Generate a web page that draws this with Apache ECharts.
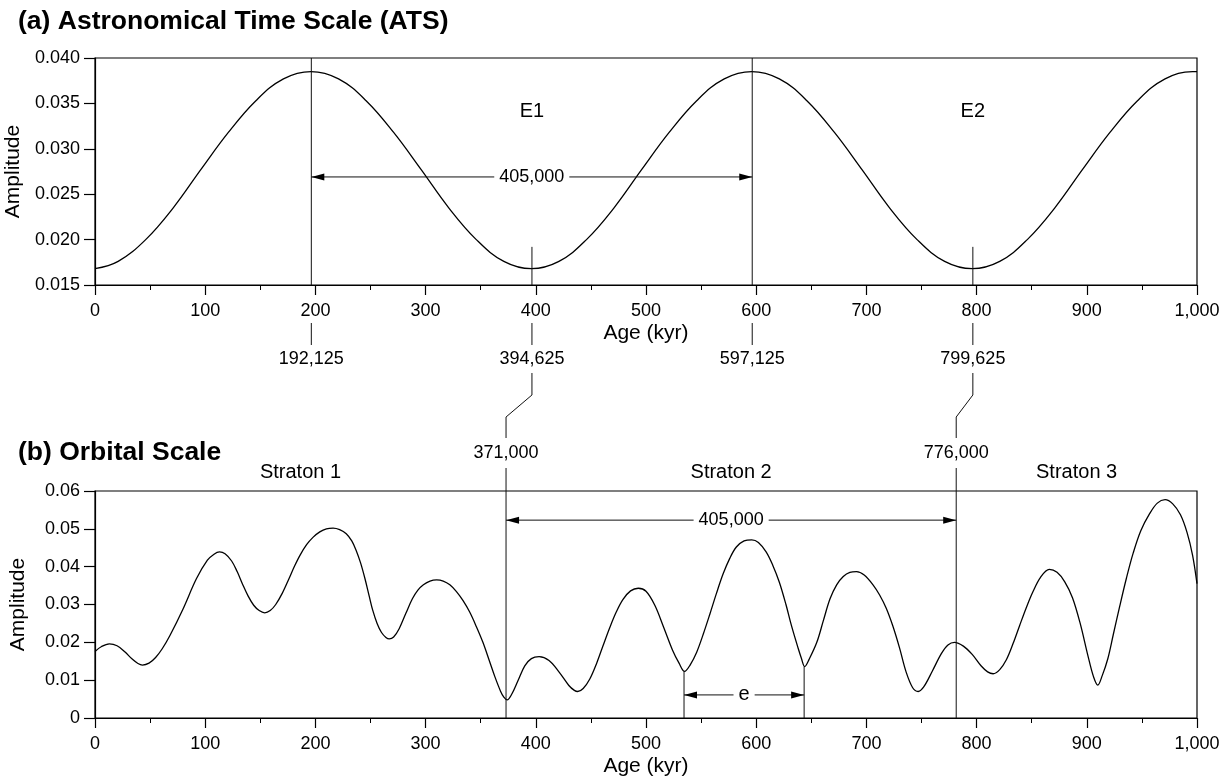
<!DOCTYPE html>
<html>
<head>
<meta charset="utf-8">
<title>ATS / Orbital Scale</title>
<script src="https://cdn.jsdelivr.net/npm/echarts@6/dist/echarts.min.js"></script>
<style>
html, body { margin: 0; padding: 0; background: #fff; }
#main { width: 1231px; height: 780px; }
</style>
</head>
<body>
<div id="main"></div>
<script>
// (a) ATS curve, read every 25 kyr from the peak at 196
var atsAge = [0, 21, 46, 71, 96, 121, 146, 171, 196, 221, 246, 271, 296, 321, 346, 371, 396,
  421, 446, 471, 496, 521, 546, 571, 596, 621, 646, 671, 696, 721, 746, 771, 796,
  821, 846, 871, 896, 921, 946, 971, 996, 1000];
var atsAmp = [0.0168, 0.0176, 0.0200, 0.0235, 0.0277, 0.0318, 0.0353, 0.0377, 0.0385, 0.0377, 0.0353, 0.0318, 0.0277, 0.0235, 0.0200, 0.0176, 0.0168,
  0.0176, 0.0200, 0.0235, 0.0277, 0.0318, 0.0353, 0.0377, 0.0385, 0.0377, 0.0353, 0.0318, 0.0277, 0.0235, 0.0200, 0.0176, 0.0168,
  0.0176, 0.0200, 0.0235, 0.0277, 0.0318, 0.0353, 0.0377, 0.0385, 0.0385];

// (b) orbital curve
var orbAge = [0, 6, 13, 20, 27, 34, 39, 43, 49, 55, 61, 68, 80, 92, 102, 108, 113, 118, 124, 129,
  134, 139, 144, 149, 154, 159, 164, 170, 176, 181, 186, 192, 198, 204, 210, 216, 222, 228, 233, 237,
  241, 245, 249, 252, 256, 260, 264, 267, 271, 276, 282, 288, 293, 298, 304, 310, 316, 322, 328, 334,
  340, 346, 352, 358, 363, 368, 371, 374, 378, 384, 390, 396, 403, 412, 421, 430, 435, 438, 443, 449,
  455, 461, 467, 473, 479, 486, 493, 500, 508, 516, 524, 530, 535, 540, 546, 552, 558, 564, 570, 576,
  582, 589, 596, 602, 609, 615, 621, 627, 632, 638, 641, 644, 648, 655, 661, 667, 673, 679, 685, 691,
  698, 706, 712, 718, 724, 730, 736, 742, 747, 752, 760, 768, 774, 780, 788, 796, 804, 810, 815, 821,
  827, 833, 839, 845, 851, 858, 866, 873, 880, 887, 894, 901, 906, 910, 914, 919, 924, 930, 936, 942,
  949, 957, 964, 971, 978, 985, 991, 996, 1000];
var orbAmp = [0.0176, 0.0189, 0.0196, 0.0191, 0.0175, 0.0155, 0.0144, 0.0140, 0.0145, 0.0160, 0.0183, 0.0218, 0.0289, 0.0368, 0.0417, 0.0433, 0.0439, 0.0434, 0.0415, 0.0387,
  0.0353, 0.0322, 0.0298, 0.0284, 0.0278, 0.0284, 0.0300, 0.0330, 0.0368, 0.0401, 0.0430, 0.0458, 0.0478, 0.0492, 0.0500, 0.0502, 0.0498, 0.0487, 0.0468, 0.0443,
  0.0410, 0.0368, 0.0320, 0.0285, 0.0250, 0.0226, 0.0213, 0.0209, 0.0214, 0.0236, 0.0276, 0.0315, 0.0338, 0.0352, 0.0362, 0.0365, 0.0362, 0.0352, 0.0334, 0.0310,
  0.0280, 0.0242, 0.0200, 0.0150, 0.0108, 0.0071, 0.0055, 0.0048, 0.0062, 0.0100, 0.0138, 0.0157, 0.0162, 0.0152, 0.0122, 0.0086, 0.0073, 0.0070, 0.0078, 0.0103,
  0.0143, 0.0191, 0.0238, 0.0280, 0.0313, 0.0336, 0.0343, 0.0335, 0.0298, 0.0240, 0.0180, 0.0145, 0.0123, 0.0140, 0.0174, 0.0222, 0.0275, 0.0330, 0.0381, 0.0422,
  0.0452, 0.0468, 0.0471, 0.0464, 0.0439, 0.0404, 0.0359, 0.0300, 0.0244, 0.0185, 0.0158, 0.0136, 0.0155, 0.0200, 0.0258, 0.0315, 0.0352, 0.0374, 0.0385, 0.0387,
  0.0378, 0.0352, 0.0325, 0.0290, 0.0243, 0.0186, 0.0122, 0.0080, 0.0070, 0.0082, 0.0125, 0.0170, 0.0193, 0.0200, 0.0190, 0.0168, 0.0138, 0.0122, 0.0117, 0.0128,
  0.0154, 0.0196, 0.0244, 0.0291, 0.0333, 0.0372, 0.0393, 0.0385, 0.0360, 0.0318, 0.0250, 0.0165, 0.0110, 0.0087, 0.0112, 0.0156, 0.0220, 0.0297, 0.0370, 0.0435,
  0.0495, 0.0540, 0.0568, 0.0577, 0.0566, 0.0537, 0.0490, 0.0430, 0.0355];

// annotations (kyr)
var atsMarks = [196.3, 396.5, 596.4, 796.6];
var atsMarkLabels = ['192,125', '394,625', '597,125', '799,625'];
var atsFull = [true, false, true, false];
var eccLabels = ['E1', 'E2'];
var stratonBounds = [373, 781.5];
var stratonLabels = ['371,000', '776,000'];
var stratonNames = ['Straton 1', 'Straton 2', 'Straton 3'];
var eMarks = [534.5, 643.5];
var eLows = [0.0123, 0.0136];

var FONT = '"Liberation Sans", Arial, sans-serif';
var mychart = echarts.init(document.getElementById('main'));

function fmtX(v) { return v.toLocaleString('en-US'); }

function makeX(idx) {
  return {
    type: 'value', gridIndex: idx, min: 0, max: 1000, interval: 100,
    name: 'Age (kyr)', nameLocation: 'middle', nameGap: 38,
    nameTextStyle: { color: '#000', fontSize: 21, fontFamily: FONT },
    axisLine: { onZero: false, lineStyle: { color: '#000', width: 1.2 } },
    axisTick: { length: 10, lineStyle: { color: '#000', width: 1.2 } },
    minorTick: { show: true, splitNumber: 2, length: 5, lineStyle: { color: '#000', width: 1 } },
    axisLabel: { color: '#000', fontSize: 18, fontFamily: FONT, margin: 17, formatter: fmtX },
    splitLine: { show: false }
  };
}

function makeY(idx, min, max, step, fmt) {
  return {
    type: 'value', gridIndex: idx, min: min, max: max, interval: step,
    name: 'Amplitude', nameLocation: 'middle', nameGap: 66,
    nameTextStyle: { color: '#000', fontSize: 21, fontFamily: FONT },
    axisLine: { show: true, lineStyle: { color: '#000', width: 1.2 } },
    axisTick: { show: true, length: 11, lineStyle: { color: '#000', width: 1.2 } },
    axisLabel: { color: '#000', fontSize: 18, fontFamily: FONT, margin: 15, formatter: fmt },
    splitLine: { show: false }
  };
}

var option = {
  animation: false,
  backgroundColor: '#fff',
  title: [
    { text: '(a) Astronomical Time Scale (ATS)', left: 18, top: 8, padding: 0,
      textStyle: { color: '#000', fontSize: 26.5, fontWeight: 'bold', fontFamily: FONT } },
    { text: '(b) Orbital Scale', left: 18, top: 439, padding: 0,
      textStyle: { color: '#000', fontSize: 26.5, fontWeight: 'bold', fontFamily: FONT } }
  ],
  grid: [
    { left: 95, right: 34, top: 58, height: 227, outerBoundsMode: 'none', show: true, borderColor: '#000', borderWidth: 1.2 },
    { left: 95, right: 34, top: 491, height: 227, outerBoundsMode: 'none', show: true, borderColor: '#000', borderWidth: 1.2 }
  ],
  xAxis: [makeX(0), makeX(1)],
  yAxis: [
    makeY(0, 0.015, 0.040, 0.005, function (v) { return v.toFixed(3); }),
    makeY(1, 0, 0.06, 0.01, function (v) { return v === 0 ? '0' : v.toFixed(2); })
  ],
  series: [
    {
      type: 'line', xAxisIndex: 0, yAxisIndex: 0, smooth: 0.4, showSymbol: false,
      lineStyle: { color: '#000', width: 1.3 },
      data: atsAge.map(function (a, i) { return [a, atsAmp[i]]; })
    },
    {
      type: 'line', xAxisIndex: 1, yAxisIndex: 1, smooth: 0.35, showSymbol: false,
      lineStyle: { color: '#000', width: 1.3 },
      data: orbAge.map(function (a, i) { return [a, orbAmp[i]]; })
    }
  ]
};
mychart.setOption(option);

// annotations are placed through the chart's own scales
function px(g, x, y) { return mychart.convertToPixel({ gridIndex: g }, [x, y]); }

var LS = { stroke: '#111', lineWidth: 1 };
var g = [];
function line(pts) {
  g.push({ type: 'polyline', z: 10, shape: { points: pts }, style: LS, silent: true });
}
function text(str, x, y, size, bg) {
  var st = { text: str, x: x, y: y, fill: '#000', font: size + 'px ' + FONT, align: 'center', verticalAlign: 'middle' };
  if (bg) { st.backgroundColor = '#fff'; st.padding = [0, 5]; }
  g.push({ type: 'text', z: 20, style: st, silent: true });
}
function head(x, y, dir) {
  // filled triangle, tip at (x, y)
  g.push({ type: 'polygon', z: 10, silent: true, style: { fill: '#000' },
    shape: { points: [[x, y], [x - dir * 13, y - 3.5], [x - dir * 13, y + 3.5]] } });
}
function arrow(gi, x1, x2, v, label, size) {
  var a = px(gi, x1, v), b = px(gi, x2, v);
  line([a, b]);
  head(a[0], a[1], -1);
  head(b[0], b[1], 1);
  text(label, (a[0] + b[0]) / 2, a[1], size, true);
}

var axisA = px(0, 0, 0.015)[1];
var topB = px(1, 0, 0.06)[1];

// (a) marker lines
atsMarks.forEach(function (m, i) {
  var top = atsFull[i] ? 0.040 : 0.0192;
  line([px(0, m, 0.015), px(0, m, top)]);
  var x = px(0, m, 0.015)[0];
  line([[x, axisA + 38], [x, axisA + 60]]);
  text(atsMarkLabels[i], x, axisA + 74, 18);
});
eccLabels.forEach(function (s, i) {
  var p = px(0, atsMarks[2 * i + 1], 0.0341);
  text(s, p[0], p[1], 20);
});
arrow(0, atsMarks[0], atsMarks[2], 0.0269, '405,000', 18);

// links from ATS troughs down to straton boundaries
stratonBounds.forEach(function (b, i) {
  var tx = px(0, atsMarks[2 * i + 1], 0.015)[0];
  var sx = px(1, b, 0)[0];
  line([[tx, axisA + 88], [tx, axisA + 110], [sx, axisA + 132], [sx, axisA + 153]]);
  text(stratonLabels[i], sx, topB - 38, 18);
  line([[sx, topB - 23], px(1, b, 0)]);
});

// straton names centred between boundaries
var edges = [0].concat(stratonBounds, [1000]);
stratonNames.forEach(function (s, i) {
  var x = (px(1, edges[i], 0)[0] + px(1, edges[i + 1], 0)[0]) / 2;
  text(s, x, topB - 19, 20);
});
arrow(1, stratonBounds[0], stratonBounds[1], 0.0523, '405,000', 18);

// e interval
eMarks.forEach(function (m, i) { line([px(1, m, 0), px(1, m, eLows[i])]); });
arrow(1, eMarks[0], eMarks[1], 0.0061, 'e', 20);

mychart.setOption({ graphic: g });
</script>
</body>
</html>
